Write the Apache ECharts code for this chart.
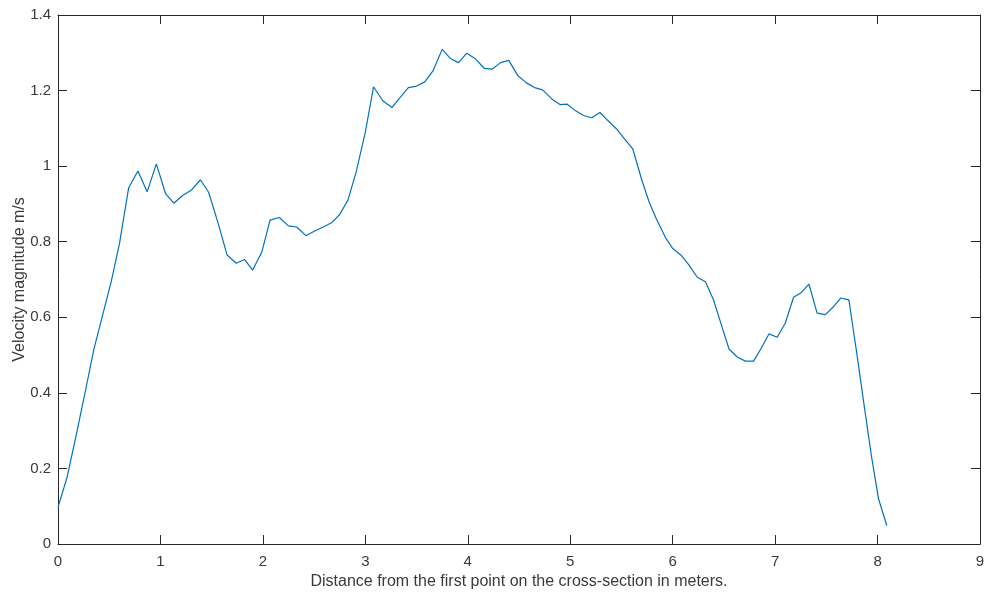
<!DOCTYPE html>
<html>
<head>
<meta charset="utf-8">
<script src="https://cdn.jsdelivr.net/npm/echarts@6/dist/echarts.min.js"></script>
<style>
html,body{margin:0;padding:0;background:#fff;}
#c{width:987px;height:596px;}
</style>
</head>
<body>
<div id="c"></div>
<script>
const distances = [0.00,0.09,0.175,0.26,0.35,0.43,0.52,0.60,0.69,0.78,0.87,0.96,1.05,1.13,1.22,1.30,1.39,1.47,1.56,1.65,1.74,1.82,1.90,1.99,2.07,2.16,2.25,2.33,2.42,2.51,2.59,2.67,2.75,2.83,2.91,3.00,3.08,3.17,3.26,3.34,3.42,3.50,3.58,3.66,3.75,3.83,3.91,3.99,4.07,4.16,4.24,4.32,4.40,4.49,4.57,4.66,4.73,4.82,4.90,4.97,5.05,5.13,5.21,5.29,5.37,5.45,5.53,5.61,5.70,5.77,5.84,5.93,6.00,6.08,6.16,6.24,6.32,6.40,6.48,6.55,6.63,6.71,6.79,6.86,6.94,7.02,7.10,7.18,7.25,7.33,7.41,7.49,7.57,7.64,7.72,7.80,7.87,7.94,8.01,8.09];
const velocity = [0.097,0.178,0.285,0.395,0.515,0.600,0.695,0.795,0.943,0.987,0.932,1.006,0.927,0.902,0.923,0.936,0.964,0.931,0.852,0.765,0.743,0.753,0.725,0.773,0.857,0.864,0.842,0.839,0.816,0.829,0.839,0.850,0.872,0.910,0.984,1.090,1.210,1.173,1.155,1.182,1.208,1.212,1.223,1.252,1.309,1.285,1.274,1.299,1.285,1.259,1.257,1.274,1.280,1.239,1.221,1.207,1.202,1.178,1.163,1.164,1.147,1.134,1.128,1.142,1.120,1.099,1.072,1.046,0.962,0.905,0.861,0.811,0.782,0.765,0.738,0.706,0.694,0.645,0.576,0.516,0.495,0.484,0.484,0.516,0.556,0.547,0.585,0.653,0.664,0.688,0.611,0.607,0.628,0.651,0.646,0.500,0.365,0.233,0.119,0.049];
const xTicks = [0,1,2,3,4,5,6,7,8,9];
const yTicks = [0,0.2,0.4,0.6,0.8,1,1.2,1.4];
const xLabel = 'Distance from the first point on the cross-section in meters.';
const yLabel = 'Velocity magnitude m/s';

const axisColor = '#262626';
const labelColor = '#3a3a3a';
const font = 'Liberation Sans, Arial, Helvetica, sans-serif';

const chart = echarts.init(document.getElementById('c'), null, {renderer:'canvas'});
const common = {
  axisLine:{show:true,onZero:false,lineStyle:{color:axisColor,width:1}},
  axisTick:{show:true,inside:true,length:9,lineStyle:{color:axisColor,width:1}},
  splitLine:{show:false}
};
chart.setOption({
  animation:false,
  backgroundColor:'#ffffff',
  grid:{left:58,right:7,top:15,bottom:52,containLabel:false,outerBoundsMode:'none'},
  xAxis:[
    Object.assign({type:'value',min:xTicks[0],max:xTicks[xTicks.length-1],interval:1,position:'bottom',
      name:xLabel,nameLocation:'middle',nameGap:30,nameMoveOverlap:false,
      nameTextStyle:{color:labelColor,fontSize:16,fontFamily:font},
      axisLabel:{color:labelColor,fontSize:15,fontFamily:font,margin:10,formatter:v=>String(v)}},common),
    Object.assign({type:'value',min:xTicks[0],max:xTicks[xTicks.length-1],interval:1,position:'top',
      axisLabel:{show:false}},common)
  ],
  yAxis:[
    Object.assign({type:'value',min:yTicks[0],max:yTicks[yTicks.length-1],interval:0.2,position:'left',
      name:yLabel,nameLocation:'middle',nameGap:30,nameMoveOverlap:false,
      nameTextStyle:{color:labelColor,fontSize:16,fontFamily:font},
      axisLabel:{color:labelColor,fontSize:15,fontFamily:font,margin:7,
        formatter:v=>{const r=Math.round(v*10)/10;return String(r);}}},common),
    Object.assign({type:'value',min:yTicks[0],max:yTicks[yTicks.length-1],interval:0.2,position:'right',
      axisLabel:{show:false}},common)
  ],
  series:[{
    type:'line',
    data:distances.map((d,i)=>[d,velocity[i]]),
    showSymbol:false,
    symbol:'none',
    lineStyle:{color:'#0072BD',width:1.2},
    xAxisIndex:0,yAxisIndex:0
  }]
});
</script>
</body>
</html>
